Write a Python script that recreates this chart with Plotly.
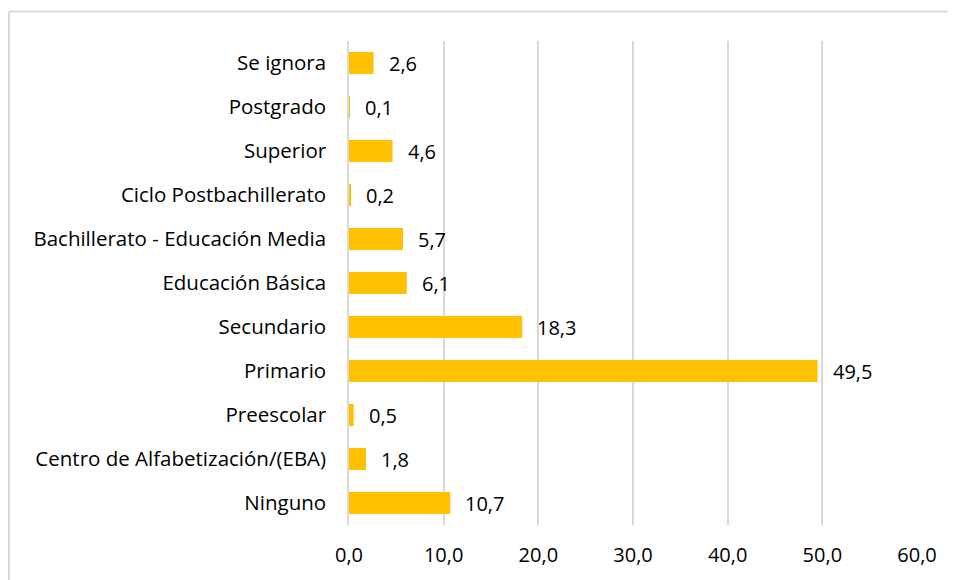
import plotly.graph_objects as go

# niveles educativos (de abajo hacia arriba, como en el gráfico)
categorias = [
    "Ninguno",
    "Centro de Alfabetización/(EBA)",
    "Preescolar",
    "Primario",
    "Secundario",
    "Educación Básica",
    "Bachillerato - Educación Media",
    "Ciclo Postbachillerato",
    "Superior",
    "Postgrado",
    "Se ignora",
]
porcentajes = [10.7, 1.8, 0.5, 49.5, 18.3, 6.1, 5.7, 0.2, 4.6, 0.1, 2.6]
ticks_x = [0, 10, 20, 30, 40, 50, 60]

FUENTE = "Open Sans"
GRIS = "#D9D9D9"

fig = go.Figure()
fig.add_trace(go.Bar(
    y=categorias,
    x=porcentajes,
    orientation="h",
    marker=dict(color="#FFC000", line=dict(width=0)),
    hoverinfo="skip",
))

# etiquetas de datos a la derecha de cada barra
for cat, val in zip(categorias, porcentajes):
    fig.add_annotation(
        x=val, y=cat, text=f"{val:.1f}".replace(".", ","),
        showarrow=False, xanchor="left", xshift=13,
        font=dict(family=FUENTE, size=20, color="#000000"),
    )

# marco del gráfico (solo visible arriba e izquierda)
fig.add_shape(type="line", xref="paper", yref="paper",
              x0=-0.5986, x1=1.2, y0=1.061, y1=1.061,
              line=dict(color=GRIS, width=2))
fig.add_shape(type="line", xref="paper", yref="paper",
              x0=-0.5986, x1=-0.5986, y0=1.061, y1=-0.2,
              line=dict(color=GRIS, width=2))

# la página añade 8 px de margen al body, por eso 948x572
fig.update_layout(
    width=948, height=572,
    margin=dict(l=341, r=39, t=33, b=55),
    paper_bgcolor="white", plot_bgcolor="white",
    bargap=0.5, showlegend=False,
    separators=",.",
    font=dict(family=FUENTE, size=20, color="#000000"),
)
fig.update_xaxes(
    range=[0, 60], tickvals=ticks_x, tickformat=".1f",
    showgrid=True, gridcolor=GRIS, gridwidth=1.5,
    zeroline=False, showline=False,
    ticks="", ticklabelstandoff=16,
)
fig.update_yaxes(
    showgrid=False, showline=True, linecolor=GRIS, linewidth=1.5,
    ticks="", ticklabelstandoff=17,
    tickfont=dict(family=FUENTE, size=20.5, color="#000000"),
)

fig.write_html("out.html")
